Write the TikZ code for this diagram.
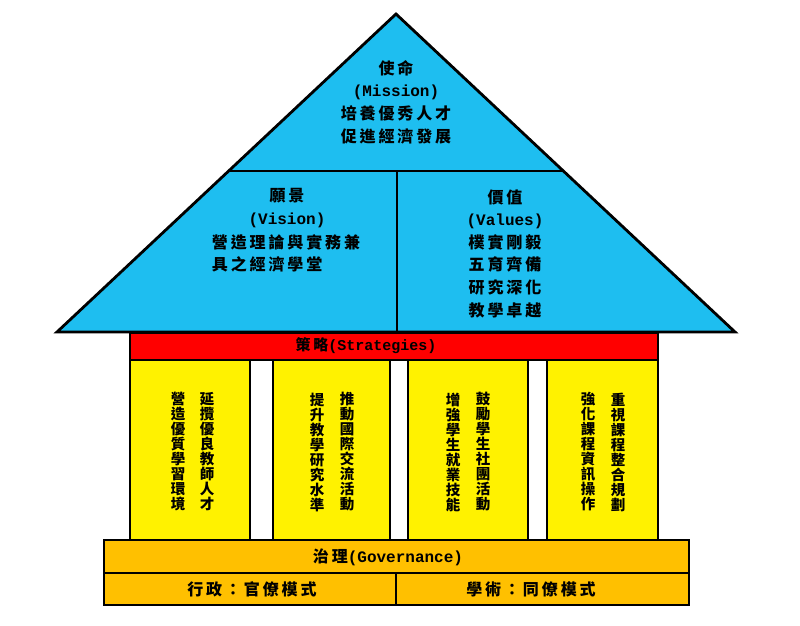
\documentclass[tikz,border=0pt]{standalone}
\usepackage{fontspec}
\usepackage{tikz}
\usetikzlibrary{positioning}
\newfontfamily\cjk{Noto Sans CJK TC}[LetterSpace=18]
\newfontfamily\cjkv{Noto Sans CJK TC}
\newfontfamily\mono{Liberation Mono}
\newcommand{\lat}[1]{{\mono\bfseries #1}}
\definecolor{roofblue}{RGB}{30,190,240}
\definecolor{govorange}{RGB}{255,192,0}

\begin{document}
\begin{tikzpicture}[x=1pt, y=-1pt, line width=2.8pt, line join=miter,
    txt/.style={font=\cjk\bfseries\fontsize{16}{22.6}\selectfont, align=center, inner sep=0pt},
    bartxt/.style={font=\cjk\bfseries\fontsize{16}{18}\selectfont, inner sep=0pt},
    vtxt/.style={font=\cjkv\bfseries\fontsize{14.5}{15}\selectfont, align=center, inner sep=0pt}]

    \useasboundingbox (0,0) rectangle (800,626);

    % Roof: big triangle with mission on top, vision and values below
    \draw[fill=roofblue] (396,14) -- (735,332) -- (57,332) -- cycle;
    \draw (229,171) -- (563,171);
    \draw (397,171) -- (397,332);

    % Strategies beam
    \draw[fill=red] (130,333) rectangle (658,360);

    % --- PILLARS ---
    \draw[fill=yellow] (130,360) rectangle (250,540);
    \draw[fill=yellow] (273,360) rectangle (390,540);
    \draw[fill=yellow] (408,360) rectangle (528,540);
    \draw[fill=yellow] (547,360) rectangle (658,540);

    % Foundation: governance
    \draw[fill=govorange] (104,540) rectangle (689,573);
    \draw[fill=govorange] (104,573) rectangle (396,605);
    \draw[fill=govorange] (396,573) rectangle (689,605);

    % Roof texts
    \node[txt] (mission) at (396,102) {使命\\\lat{(Mission)}\\培養優秀人才\\促進經濟發展};
    \node[txt] (vision) at (287,208) {願景\\\lat{(Vision)}};
    \node[txt, align=left] (visiontext) at (286,253.5) {營造理論與實務兼\\具之經濟學堂};
    \node[txt] (values) at (505,253.5) {價值\\\lat{(Values)}\\樸實剛毅\\五育齊備\\研究深化\\教學卓越};

    % Beam and foundation texts
    \node[bartxt, font=\cjk\bfseries\fontsize{15}{18}\selectfont] (strategies) at (366,346) {策略\lat{(Strategies)}};
    \node[bartxt] (governance) at (388,557) {治理\lat{(Governance)}};
    \node[bartxt] (admin) at (252,589) {行政：官僚模式};
    \node[bartxt] (academic) at (531,589) {學術：同僚模式};

    % Pillar texts, right line read first
    \node[vtxt] (pillarAr) at (207,452) {延\\攬\\優\\良\\教\\師\\人\\才};
    \node[vtxt] (pillarAl) at (178,452) {營\\造\\優\\質\\學\\習\\環\\境};
    \node[vtxt] (pillarBr) at (347,452) {推\\動\\國\\際\\交\\流\\活\\動};
    \node[vtxt] (pillarBl) at (317,452) {提\\升\\教\\學\\研\\究\\水\\準};
    \node[vtxt] (pillarCr) at (483,452) {鼓\\勵\\學\\生\\社\\團\\活\\動};
    \node[vtxt] (pillarCl) at (453,452) {增\\強\\學\\生\\就\\業\\技\\能};
    \node[vtxt] (pillarDr) at (618,452) {重\\視\\課\\程\\整\\合\\規\\劃};
    \node[vtxt] (pillarDl) at (588,452) {強\\化\\課\\程\\資\\訊\\操\\作};

\end{tikzpicture}
\end{document}
